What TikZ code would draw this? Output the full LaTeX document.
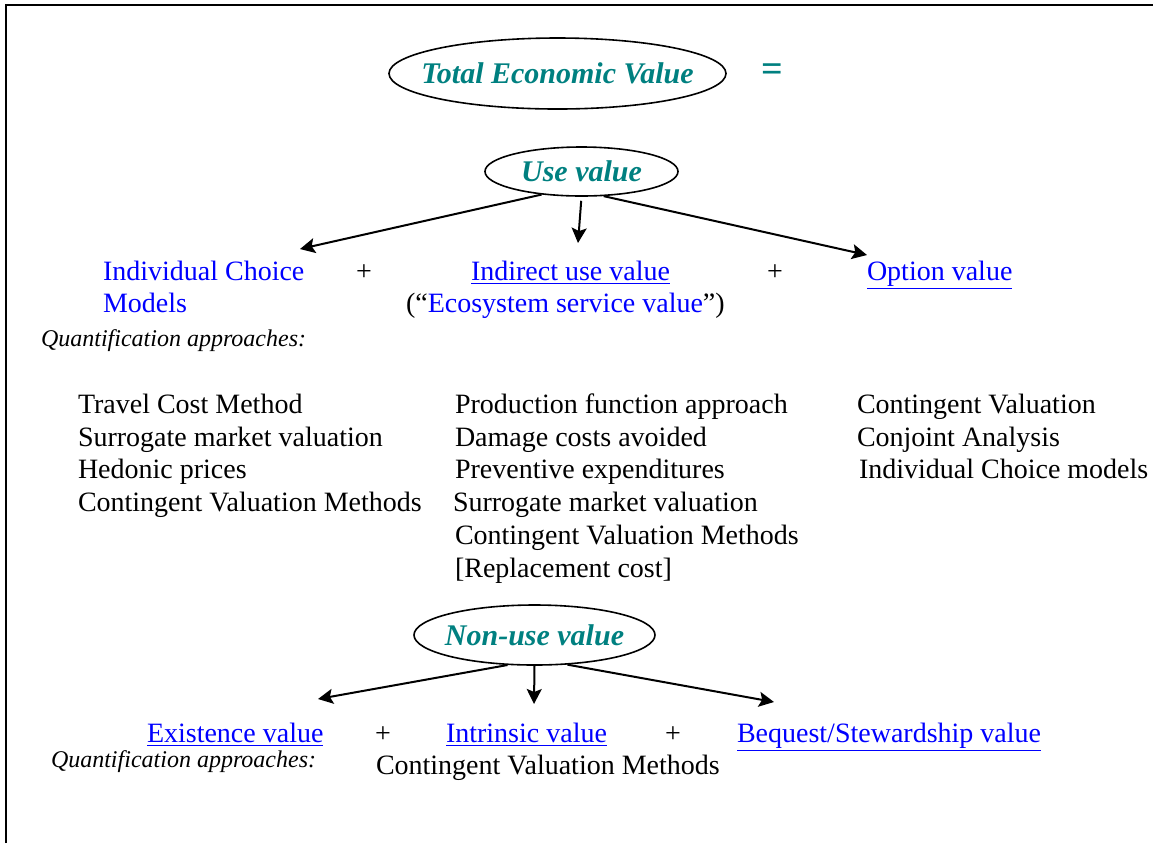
\documentclass[tikz,border=0pt]{standalone}
\usepackage{fontspec}
\setmainfont{Liberation Serif}
\usetikzlibrary{shapes.geometric, arrows.meta}
\definecolor{tevteal}{RGB}{0,128,128}
\definecolor{linkblue}{RGB}{0,0,255}
\tikzset{
  oval/.style={ellipse, draw, line width=0.8pt, inner sep=0pt, text=tevteal, font=\fontsize{15}{18}\selectfont\bfseries\itshape},
  txt/.style={anchor=base west, inner sep=0pt, font=\fontsize{14}{16.5}\selectfont},
  lnk/.style={txt, text=linkblue},
  quant/.style={anchor=base west, inner sep=0pt, font=\fontsize{12}{14}\selectfont\itshape},
  plus/.style={anchor=base, inner sep=0pt, font=\fontsize{14}{16.5}\selectfont}
}

\begin{document}
\begin{tikzpicture}[x=0.5pt, y=-0.5pt, line width=1pt, >={Stealth[length=7.5pt,width=7.5pt,inset=1.5pt]}]
\useasboundingbox (0,0) rectangle (1153,843);
\draw (6,843) -- (6,5) -- (1153,5);

\node[oval, minimum width=168.5pt, minimum height=35.5pt] (tev) at (557.5,73.5) {\makebox[0pt]{Total Economic Value}};
\node[text=tevteal, inner sep=0pt, font=\fontsize{19}{22}\selectfont\bfseries] (eq) at (772,73) {=};

\node[oval, minimum width=96.5pt, minimum height=24.5pt] (use) at (581.5,171.5) {\makebox[0pt]{Use value}};
\coordinate (uL) at (300,249);
\coordinate (uM) at (578,243);
\coordinate (uR) at (867,255);
\draw[->] (use.210) -- (uL);
\draw[->, shorten <=2pt] (use.south) -- (uM);
\draw[->] (use.312) -- (uR);

\node[lnk] (icm) at (102,280) {Individual Choice};
\node[lnk] (icm2) at (102,312) {Models};
\node[plus] (p1) at (364,280) {+};
\node[lnk] (iuv) at (470,280) {\underline{Indirect use value}};
\node[txt] (esv) at (405,312) {(“\textcolor{linkblue}{Ecosystem service value}”)};
\node[plus] (p2) at (775,280) {+};
\node[lnk] (opt) at (866,280) {\underline{Option value}};
\node[quant] (qa1) at (40,346) {Quantification approaches:};

\node[txt] (tcm) at (77,413) {Travel Cost Method};
\node[txt] (smv) at (77,446) {Surrogate market valuation};
\node[txt] (hp) at (77,478) {Hedonic prices};
\node[txt] (cvm) at (77,511) {Contingent Valuation Methods};

\node[txt] (pfa) at (454,413) {Production function approach};
\node[txt] (dca) at (454,446) {Damage costs avoided};
\node[txt] (pe) at (454,478) {Preventive expenditures};
\node[txt] (smv2) at (452,511) {Surrogate market valuation};
\node[txt] (cvm2) at (454,544) {Contingent Valuation Methods};
\node[txt] (rc) at (454,577) {[Replacement cost]};

\node[txt] (cv) at (856,413) {Contingent Valuation};
\node[txt] (ca) at (856,446) {Conjoint Analysis};
\node[txt] (icm3) at (858,478) {Individual Choice models};

\node[oval, minimum width=120.5pt, minimum height=30pt] (nonuse) at (534.5,635) {\makebox[0pt]{Non-use value}};
\coordinate (nL) at (318,699);
\coordinate (nM) at (534,704);
\coordinate (nR) at (774,702);
\draw[->] (nonuse.228) -- (nL);
\draw[->] (nonuse.south) -- (nM);
\draw[->] (nonuse.318) -- (nR);

\node[lnk] (exv) at (146,742) {\underline{Existence value}};
\node[plus] (p3) at (383,742) {+};
\node[lnk] (inv) at (445,742) {\underline{Intrinsic value}};
\node[plus] (p4) at (673,742) {+};
\node[lnk] (bqv) at (736,742) {\underline{Bequest/Stewardship value}};
\node[quant] (qa2) at (50,767) {Quantification approaches:};
\node[txt] (cvm3) at (375,774) {Contingent Valuation Methods};

\end{tikzpicture}
\end{document}
